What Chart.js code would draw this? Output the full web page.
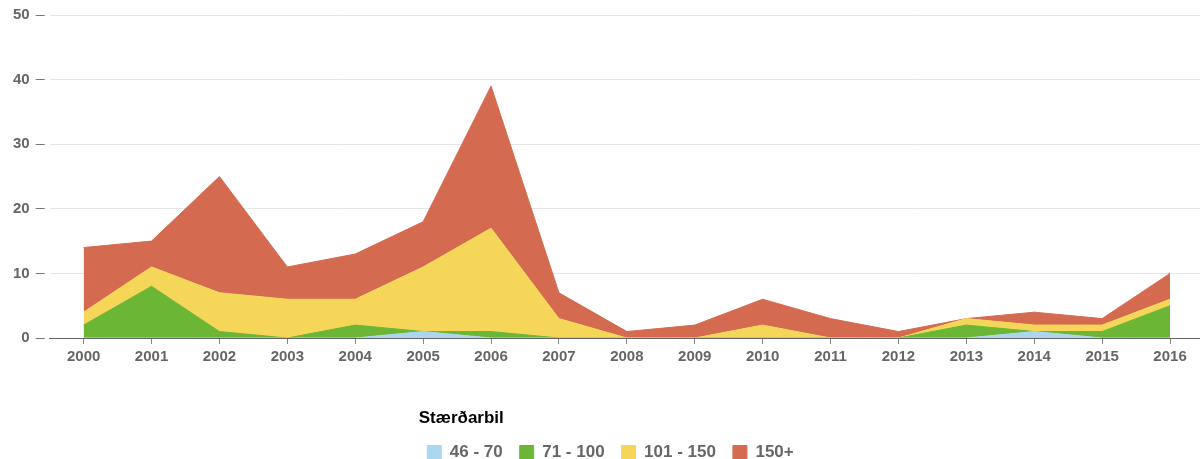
<!DOCTYPE html>
<html><head><meta charset="utf-8">
<script src="https://cdn.jsdelivr.net/npm/chart.js@4/dist/chart.umd.min.js"></script>
<style>html,body{margin:0;padding:0;background:#fff;overflow:hidden}#wrap{width:1204px;height:459px;position:relative}</style>
</head><body><div id="wrap"><canvas id="c"></canvas></div>
<script>
const years = ['2000','2001','2002','2003','2004','2005','2006','2007','2008','2009','2010','2011','2012','2013','2014','2015','2016'];
const s46_70   = [0,0,0,0,0,1,0,0,0,0,0,0,0,0,1,0,0];
const s71_100  = [2,8,1,0,2,0,1,0,0,0,0,0,0,2,0,1,5];
const s101_150 = [2,3,6,6,4,10,16,3,0,0,2,0,0,1,1,1,1];
const s150p    = [10,4,18,5,7,7,22,4,1,2,4,3,1,0,2,1,4];
const seriesNames = ['46 - 70','71 - 100','101 - 150','150+'];
const yTicks = [0,10,20,30,40,50];
const legendTitle = 'Stærðarbil';

const colors = ['rgb(170,214,240)','rgb(108,182,54)','rgb(246,214,88)','rgb(212,107,80)'];
const seriesData = [s46_70, s71_100, s101_150, s150p];
const font = "'Liberation Sans', Arial, sans-serif";

const datasets = seriesData.map((d, i) => ({
  label: seriesNames[i],
  data: d,
  backgroundColor: colors[i],
  borderColor: colors[i],
  borderWidth: 1,
  pointRadius: 0,
  pointHoverRadius: 0,
  tension: 0,
  fill: i === 0 ? 'origin' : '-1'
}));

const legendShift = {
  id: 'legendShift',
  afterLayout(chart) { if (chart.legend) { chart.legend.left += 10; } }
};

new Chart(document.getElementById('c'), {
  type: 'line',
  data: { labels: years, datasets },
  plugins: [legendShift],
  options: {
    responsive: true,
    maintainAspectRatio: false,
    animation: false,
    layout: { padding: { top: 0, left: 7, right: 0, bottom: -12 } },
    scales: {
      x: {
        type: 'category',
        offset: true,
        grid: { offset: false, drawOnChartArea: false, drawTicks: true, tickLength: 6, tickColor: '#888', lineWidth: 1 },
        border: { display: true, color: '#666', width: 1 },
        ticks: { color: '#666', font: { family: font, size: 15, weight: 'bold' }, padding: 4, maxRotation: 0, autoSkip: false }
      },
      y: {
        stacked: true,
        min: 0, max: 50,
        afterBuildTicks: (axis) => { axis.ticks = yTicks.map(v => ({ value: v })); },
        grid: { color: '#e6e6e6', lineWidth: 1, drawTicks: true, tickLength: 14, tickColor: '#777', tickBorderDash: [9, 40] },
        border: { display: false },
        ticks: { color: '#666', font: { family: font, size: 15, weight: 'bold' }, padding: 6 }
      }
    },
    plugins: {
      tooltip: { enabled: false },
      filler: { propagate: false },
      legend: {
        position: 'bottom',
        title: { display: true, text: legendTitle, position: 'start', color: '#000', font: { family: font, size: 17, weight: 'bold', lineHeight: 1 }, padding: { top: 40, bottom: 0 } },
        labels: { boxWidth: 14, boxHeight: 14, color: '#666', font: { family: font, size: 17, weight: 'bold' }, padding: 17 }
      }
    }
  }
});
</script>
</body></html>
